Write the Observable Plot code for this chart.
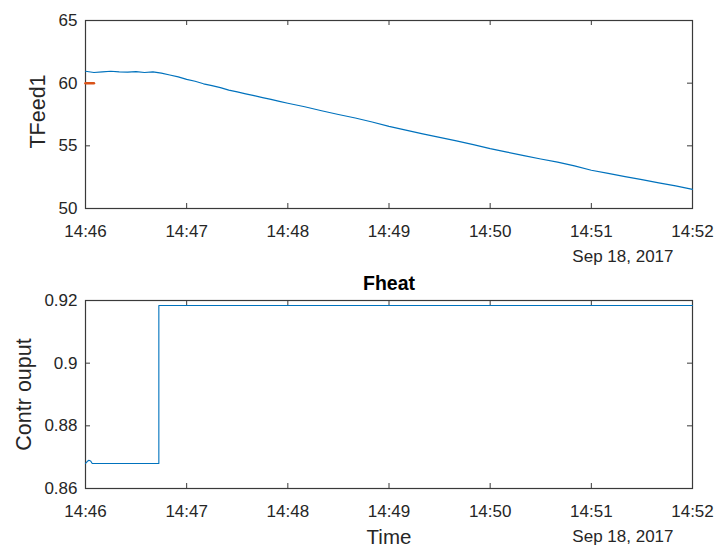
<!DOCTYPE html>
<html>
<head>
<meta charset="utf-8">
<script src="https://cdn.jsdelivr.net/npm/d3@7"></script>
<script src="https://cdn.jsdelivr.net/npm/@observablehq/plot@0.6"></script>
<style>
  body { margin: 0; background: white; }
  #chart { width: 720px; height: 551px; overflow: hidden; }
  #chart svg { display: block; }
</style>
</head>
<body>
<div id="chart"></div>
<script>
// ---- data (seconds after 14:46:00, Sep 18, 2017) ----
const tfeedSec = [0, 5, 10, 15, 20, 25, 30, 35, 40, 45, 50, 55, 60, 65, 70, 75, 80, 85, 90, 95, 100, 105, 110, 115,
  120, 130, 140, 150, 160, 170, 180, 190, 200, 210, 220, 230, 240, 250, 260, 270, 280, 290, 300, 310, 320, 330, 340, 350, 360];
const tfeedVal = [60.95, 60.85, 60.9, 60.95, 60.9, 60.88, 60.92, 60.85, 60.9, 60.8, 60.65, 60.5, 60.3, 60.15, 59.95, 59.8, 59.65, 59.45, 59.3, 59.15, 59.0, 58.85, 58.7, 58.55,
  58.4, 58.12, 57.8, 57.5, 57.22, 56.9, 56.55, 56.25, 55.95, 55.68, 55.4, 55.1, 54.78, 54.5, 54.22, 53.95, 53.7, 53.4, 53.05, 52.8, 52.55, 52.3, 52.05, 51.8, 51.52];
const setpointSec = [0, 5];
const setpointVal = [60, 60];
const fheatSec = [0, 1, 2, 3, 4, 6, 43.5, 43.5, 360];
const fheatVal = [0.868, 0.8686, 0.869, 0.8688, 0.868, 0.868, 0.868, 0.9184, 0.9184];
const xTickMin = [0, 1, 2, 3, 4, 5, 6];
const yTicksTop = [50, 55, 60, 65];
const yTicksBottom = [0.86, 0.88, 0.9, 0.92];
const dateLabel = "Sep 18, 2017";
const topYLabel = "TFeed1";
const bottomYLabel = "Contr ouput";
const bottomTitle = "Fheat";
const bottomXLabel = "Time";

// ---- build ----
const t0 = Date.UTC(2017, 8, 18, 14, 46, 0);
const toDate = s => new Date(t0 + s * 1000);
const tfeed = tfeedSec.map((s, i) => ({t: toDate(s), v: tfeedVal[i]}));
const setpoint = setpointSec.map((s, i) => ({t: toDate(s), v: setpointVal[i]}));
const fheat = fheatSec.map((s, i) => ({t: toDate(s), v: fheatVal[i]}));
const xTicks = xTickMin.map(m => toDate(m * 60));
const fmt = d3.utcFormat("%H:%M");

const W = 720, ML = 85, MR = 28;
const FW = W - ML - MR;
const axisColor = "#3a3a3a";
const textColor = "#262626";
const font = "'Liberation Sans', Arial, Helvetica, sans-serif";
const TL = 5;

function panel({height, marginTop, marginBottom, yDomain, yTicks, yLabel, yLabelDx, yLabelDy, title, xLabel, lines}) {
  const FH = height - marginTop - marginBottom;
  const marks = [
    Plot.frame({stroke: axisColor, strokeWidth: 1.2}),
    Plot.ruleX(xTicks, {x: d => d, insetTop: FH - TL, stroke: axisColor}),
    Plot.ruleX(xTicks, {x: d => d, insetBottom: FH - TL, stroke: axisColor}),
    Plot.ruleY(yTicks, {y: d => d, insetRight: FW - TL, stroke: axisColor}),
    Plot.ruleY(yTicks, {y: d => d, insetLeft: FW - TL, stroke: axisColor}),
    Plot.axisX(xTicks, {tickSize: 0, tickPadding: 16.5, tickFormat: fmt, label: null, fill: textColor, fontSize: 17}),
    Plot.axisY(yTicks, {tickSize: 0, tickPadding: 8, tickFormat: d => String(d), label: null, fill: textColor, fontSize: 17}),
    ...lines,
    Plot.text([dateLabel], {text: d => d, frameAnchor: "bottom-right", dx: -19, dy: 48, textAnchor: "end", lineAnchor: "middle", fill: textColor, fontSize: 17}),
    Plot.text([yLabel], {text: d => d, frameAnchor: "left", dx: yLabelDx, dy: yLabelDy, rotate: -90, textAnchor: "middle", lineAnchor: "middle", fill: textColor, fontSize: 21.5})
  ];
  if (title) marks.push(Plot.text([title], {text: d => d, frameAnchor: "top", dy: -17, textAnchor: "middle", lineAnchor: "middle", fontWeight: "bold", fill: "#000", fontSize: 19.5}));
  if (xLabel) marks.push(Plot.text([xLabel], {text: d => d, frameAnchor: "bottom", dy: 49, textAnchor: "middle", lineAnchor: "middle", fill: textColor, fontSize: 20.5}));
  return Plot.plot({
    width: W, height, marginLeft: ML, marginRight: MR, marginTop, marginBottom,
    style: {fontFamily: font, fontSize: "17px", background: "white", color: textColor, overflow: "visible"},
    x: {type: "utc", domain: [toDate(0), toDate(360)]},
    y: {domain: yDomain},
    marks
  });
}

const topChart = panel({
  height: 275, marginTop: 20, marginBottom: 67,
  yDomain: [50, 65], yTicks: yTicksTop, yLabel: topYLabel, yLabelDx: -47, yLabelDy: -3,
  lines: [
    Plot.line(tfeed, {x: "t", y: "v", stroke: "#0072BD", strokeWidth: 1.2}),
    Plot.line(setpoint, {x: "t", y: "v", stroke: "#D95319", strokeWidth: 2.5})
  ]
});
const bottomChart = panel({
  height: 276, marginTop: 25, marginBottom: 63,
  yDomain: [0.86, 0.92], yTicks: yTicksBottom, yLabel: bottomYLabel, yLabelDx: -61, yLabelDy: 0,
  title: bottomTitle, xLabel: bottomXLabel,
  lines: [
    Plot.line(fheat, {x: "t", y: "v", stroke: "#0072BD", strokeWidth: 1.1})
  ]
});
const el = document.getElementById("chart");
el.append(topChart, bottomChart);
</script>
</body>
</html>
